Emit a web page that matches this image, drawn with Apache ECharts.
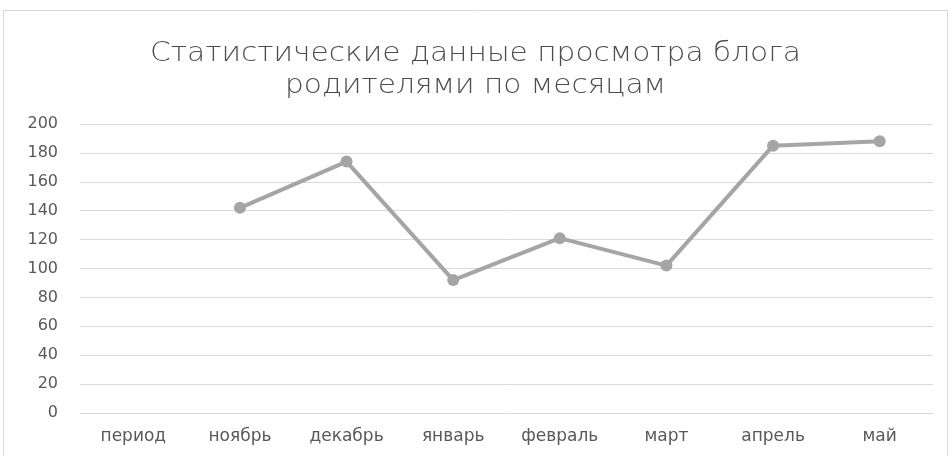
<!DOCTYPE html>
<html>
<head>
<meta charset="utf-8">
<script src="https://cdn.jsdelivr.net/npm/echarts@6/dist/echarts.min.js"></script>
<style>html,body{margin:0;padding:0;background:#fff}#c{width:951px;height:456px}</style>
</head>
<body>
<div id="c"></div>
<script>
const titleLines = ['Статистические данные просмотра блога', 'родителями по месяцам'];
const categories = ['период', 'ноябрь', 'декабрь', 'январь', 'февраль', 'март', 'апрель', 'май'];
const views = [null, 142, 174, 92, 121, 102, 185, 188];
const yMin = 0, yMax = 200, yStep = 20;

const chart = echarts.init(document.getElementById('c'));
const titleGraphics = titleLines.map((t, i) => ({
  type: 'text', silent: true,
  x: 475.5, y: 54 + i * 32, scaleX: 1.14,
  style: {
    text: t, textAlign: 'center', textVerticalAlign: 'middle',
    fontFamily: 'DejaVu Sans', fontWeight: 200, fontSize: 26, fill: '#4d4d4d'
  }
}));
chart.setOption({
  backgroundColor: '#fff',
  animation: false,
  graphic: [{
    type: 'rect', silent: true,
    shape: { x: 3.5, y: 10.5, width: 944, height: 460 },
    style: { fill: 'none', stroke: '#d9d9d9', lineWidth: 1 }
  }].concat(titleGraphics),
  grid: { left: 80, right: 18, top: 124, bottom: 43 },
  xAxis: {
    type: 'category',
    data: categories,
    boundaryGap: true,
    axisLine: { show: false },
    axisTick: { show: false },
    axisLabel: { color: '#595959', fontFamily: 'DejaVu Sans', fontSize: 17, margin: 15 }
  },
  yAxis: {
    type: 'value',
    min: yMin, max: yMax, interval: yStep,
    axisLine: { show: false },
    axisTick: { show: false },
    splitLine: { lineStyle: { color: '#d9d9d9', width: 1 } },
    axisLabel: { color: '#595959', fontFamily: 'DejaVu Sans', fontSize: 16, margin: 22 }
  },
  series: [{
    type: 'line',
    data: views,
    connectNulls: false,
    symbol: 'circle',
    symbolSize: 12,
    lineStyle: { color: '#a5a5a5', width: 4 },
    itemStyle: { color: '#a5a5a5' }
  }]
});
</script>
</body>
</html>
